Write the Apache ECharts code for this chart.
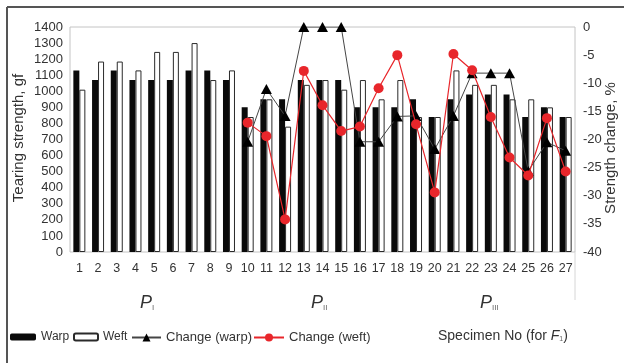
<!DOCTYPE html>
<html>
<head>
<meta charset="utf-8">
<script src="https://cdn.jsdelivr.net/npm/echarts@6/dist/echarts.min.js"></script>
<style>
  html, body { margin: 0; padding: 0; background: #fff; }
  #chart { width: 624px; height: 363px; }
</style>
</head>
<body>
<div id="chart"></div>
<script>
// Specimen numbers along the x axis
const specimens = ['1','2','3','4','5','6','7','8','9','10','11','12','13','14',
  '15','16','17','18','19','20','21','22','23','24','25','26','27'];

// Tearing strength, gf
const warp = [1130, 1070, 1130, 1070, 1070, 1070, 1130, 1130, 1070,
  900, 950, 950, 1070, 1070, 1070, 900, 900, 900,
  950, 840, 950, 980, 980, 980, 840, 900, 840];
const weft = [1010, 1185, 1185, 1130, 1245, 1245, 1300, 1070, 1130,
  840, 950, 780, 1040, 1070, 1010, 1070, 950, 1070,
  840, 840, 1130, 1040, 1040, 950, 950, 900, 840];

// Strength change, % (no value for the untreated specimens 1-9)
const changeWarp = [null, null, null, null, null, null, null, null, null,
  -20.4, -11, -15.8, 0, 0, 0, -20.4, -20.4, -15.9,
  -15.8, -21.7, -15.8, -8.2, -8.2, -8.2, -25.6, -20.5, -22];
const changeWeft = [null, null, null, null, null, null, null, null, null,
  -17, -19.4, -34.2, -7.8, -13.9, -18.5, -17.7, -10.9, -5,
  -17.3, -29.4, -4.8, -7.7, -16, -23.2, -26.4, -16.2, -25.7];

// Group captions under the specimen numbers
const groups = [
  { sub: 'I', x: 140 },
  { sub: 'II', x: 311 },
  { sub: 'III', x: 480 }
];

const FONT = '"Liberation Sans", Arial, sans-serif';
const TXT = '#333';
const RED = '#e8262b';

const chart = echarts.init(document.getElementById('chart'), null, { renderer: 'canvas' });

const legendBase = {
  top: 331, itemHeight: 7, padding: 0, selectedMode: false,
  textStyle: { fontFamily: FONT, fontSize: 13, color: TXT }
};

const groupText = groups.map(g => ({
  type: 'text', left: g.x, top: 294,
  style: {
    text: '{p|P}{s|' + g.sub + '}',
    rich: {
      p: { fontFamily: FONT, fontStyle: 'italic', fontSize: 18, fill: TXT },
      s: { fontFamily: FONT, fontSize: 8, fill: '#666', padding: [10, 0, 0, 0] }
    }
  }
}));

// Vertical axis titles
const axisTitle = (text, x, y) => ({
  type: 'text', x: x, y: y, rotation: Math.PI / 2,
  style: { text: text, fontFamily: FONT, fontSize: 15, fill: TXT, align: 'center', verticalAlign: 'middle' }
});

chart.setOption({
  animation: false,
  backgroundColor: '#fff',
  grid: {
    left: 70, right: 49, top: 27, bottom: 111,
    outerBoundsMode: 'none', containLabel: false,
    show: true, borderColor: '#c4c4c4', borderWidth: 1
  },
  legend: [
    Object.assign({}, legendBase, { data: ['Warp'], left: 10, itemWidth: 26,
      textStyle: { fontFamily: FONT, fontSize: 12, color: TXT } }),
    Object.assign({}, legendBase, { data: ['Weft'], left: 73, itemWidth: 24,
      textStyle: { fontFamily: FONT, fontSize: 12, color: TXT } }),
    Object.assign({}, legendBase, { data: ['Change (warp)'], left: 131, itemWidth: 29, itemHeight: 10 }),
    Object.assign({}, legendBase, { data: ['Change (weft)'], left: 253, itemWidth: 30, itemHeight: 10 })
  ],
  xAxis: {
    type: 'category', data: specimens, boundaryGap: true,
    axisLine: { show: false }, axisTick: { show: false },
    axisLabel: { margin: 10, fontFamily: FONT, fontSize: 12.5, color: TXT, interval: 0 }
  },
  yAxis: [
    {
      type: 'value', min: 0, max: 1400, interval: 100, position: 'left',
      axisLine: { show: false }, axisTick: { show: false }, splitLine: { show: false },
      axisLabel: { margin: 7, fontFamily: FONT, fontSize: 13, color: TXT, formatter: v => String(v) }
    },
    {
      type: 'value', min: -40, max: 0, interval: 5, position: 'right',
      axisLine: { show: false }, axisTick: { show: false }, splitLine: { show: false },
      axisLabel: { margin: 8, fontFamily: FONT, fontSize: 13, color: TXT, formatter: v => String(v) }
    }
  ],
  series: [
    {
      name: 'Warp', type: 'bar', data: warp, barWidth: 6, barGap: '0%',
      itemStyle: { color: '#0a0a0a' }
    },
    {
      name: 'Weft', type: 'bar', data: weft, barWidth: 6,
      itemStyle: { color: '#fff', borderColor: '#2a2a2a', borderWidth: 1 }
    },
    {
      name: 'Change (warp)', type: 'line', yAxisIndex: 1, data: changeWarp,
      symbol: 'triangle', symbolSize: [11, 10], showAllSymbol: true,
      lineStyle: { color: '#454545', width: 1 },
      itemStyle: { color: '#000' }, z: 3
    },
    {
      name: 'Change (weft)', type: 'line', yAxisIndex: 1, data: changeWeft,
      symbol: 'circle', symbolSize: 10, showAllSymbol: true,
      lineStyle: { color: RED, width: 1.2 },
      itemStyle: { color: RED }, z: 4
    }
  ],
  graphic: [
    // outer frame
    { type: 'line', shape: { x1: 7, y1: 7, x2: 624, y2: 7 }, style: { stroke: '#555', lineWidth: 2 } },
    { type: 'line', shape: { x1: 7, y1: 7, x2: 7, y2: 363 }, style: { stroke: '#555', lineWidth: 2 } },
    { type: 'line', shape: { x1: 575, y1: 252, x2: 575, y2: 300 }, style: { stroke: '#d6d6d6', lineWidth: 1 } },
    axisTitle('Tearing strength, gf', 19, 138),
    axisTitle('Strength change, %', 611, 148),
    ...groupText,
    {
      type: 'text', left: 438, top: 329,
      style: {
        text: 'Specimen No (for {f|F}{s|1})',
        fontFamily: FONT, fontSize: 14, fill: TXT,
        rich: {
          f: { fontFamily: FONT, fontStyle: 'italic', fontSize: 14, fill: TXT },
          s: { fontFamily: FONT, fontSize: 7, fill: '#666', padding: [7, 0, 0, 0] }
        }
      }
    }
  ]
});
</script>
</body>
</html>
